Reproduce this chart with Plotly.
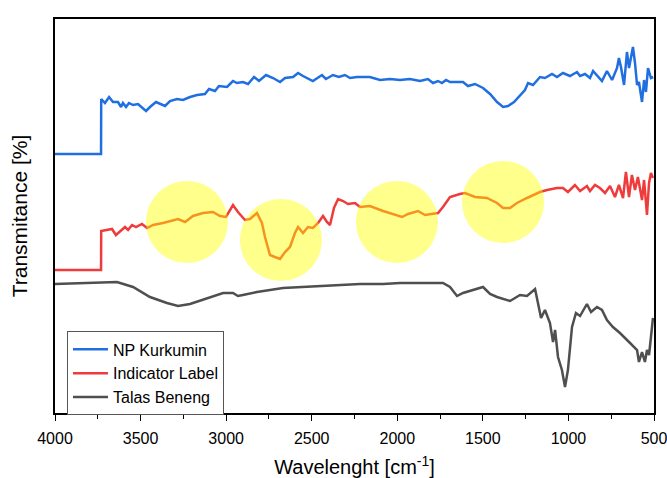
import plotly.graph_objects as go

# NP Kurkumin (blue)
kur_x = [4000, 3731, 3730, 3708, 3684, 3661, 3632, 3614, 3603, 3585, 3568, 3544, 3515, 3492, 3468, 3445,
         3410, 3357, 3328, 3287, 3252, 3211, 3170, 3124, 3100, 3065, 3042, 2995, 2960, 2937, 2902, 2872,
         2837, 2808, 2767, 2726, 2685, 2656, 2609, 2580, 2551, 2493, 2440, 2417, 2376, 2341, 2306, 2276,
         2235, 2160, 2101, 2043, 1984, 1926, 1867, 1821, 1791, 1762, 1739, 1715, 1692, 1616, 1587, 1546,
         1499, 1458, 1417, 1382, 1353, 1318, 1283, 1254, 1236, 1207, 1166, 1137, 1096, 1067, 1032, 991,
         950, 932, 903, 874, 856, 827, 804, 775, 745, 716, 705, 693, 675, 658, 646, 623, 611, 599, 588,
         570, 558, 547, 535, 518, 505]
kur_y = [259, 259, 314, 310, 316, 311, 311, 306, 310, 306, 310, 308, 309, 306, 302, 306,
         311, 307, 312, 314, 313, 316, 318, 319, 324, 322, 327, 326, 332, 330, 331, 329,
         336, 332, 338, 335, 331, 335, 336, 340, 337, 332, 338, 334, 338, 336, 338, 335,
         336, 336, 333, 334, 333, 334, 332, 334, 330, 332, 330, 333, 331, 331, 327, 329,
         325, 319, 311, 306, 307, 311, 317, 323, 330, 328, 336, 335, 339, 336, 340, 337,
         341, 337, 339, 335, 342, 336, 332, 342, 333, 345, 355, 346, 328, 361, 345, 366, 350, 328, 331,
         311, 333, 321, 345, 335, 336]

# Indicator Label (red)
ind_x = [4000, 3731, 3730, 3667, 3644, 3620, 3591, 3573, 3550, 3527, 3492, 3462, 3427, 3369, 3316, 3281,
         3240, 3194, 3135, 3077, 3036, 3001, 2960, 2931, 2890, 2861, 2820, 2791, 2773, 2744, 2715, 2685,
         2656, 2627, 2598, 2580, 2551, 2522, 2493, 2463, 2434, 2411, 2393, 2370, 2346, 2317, 2288, 2247,
         2218, 2160, 2083, 2002, 1972, 1937, 1879, 1838, 1762, 1733, 1692, 1634, 1604, 1546, 1476, 1417,
         1382, 1341, 1301, 1242, 1166, 1125, 1067, 1032, 1003, 962, 932, 892, 874, 845, 816, 786, 757,
         728, 705, 681, 664, 646, 629, 611, 594, 570, 558, 541, 529, 518, 506]
ind_y = [143, 143, 182, 184, 178, 182, 186, 183, 188, 186, 189, 185, 188, 190, 192, 194,
         191, 197, 200, 201, 197, 196, 208, 201, 193, 194, 200, 190, 176, 158, 156, 154,
         161, 166, 180, 186, 180, 186, 185, 190, 197, 191, 188, 205, 214, 212, 209, 210,
         206, 207, 202, 198, 196, 199, 202, 198, 200, 206, 216, 219, 220, 216, 215, 210,
         205, 205, 210, 215, 221, 223, 225, 225, 221, 228, 222, 227, 222, 228, 225, 220, 227,
         216, 228, 215, 241, 216, 238, 223, 236, 213, 233, 198, 230, 240, 235]

# Talas Beneng (dark grey)
tal_x = [4000, 3638, 3544, 3445, 3346, 3281, 3211, 3112, 3018, 2960, 2931, 2902, 2820, 2668, 2469, 2218,
         2083, 1984, 1733, 1692, 1651, 1616, 1499, 1458, 1417, 1341, 1283, 1242, 1195, 1178, 1160, 1137,
         1108, 1090, 1078, 1061, 1038, 1020, 1003, 979, 956, 932, 892, 868, 833, 804, 775, 740, 699, 640,
         599, 588, 570, 553, 541, 529, 512, 506]
tal_y = [129, 131, 126, 116, 110, 107, 109, 115, 120, 120, 117, 118, 121, 125, 127, 129,
         129, 130, 130, 126, 117, 120, 126, 119, 116, 112, 118, 117, 124, 111, 95, 103,
         90, 71, 83, 56, 43, 26, 43, 86, 100, 97, 109, 101, 106, 103, 93, 86, 80, 70,
         63, 51, 61, 51, 63, 58, 90, 95]

# Highlighted regions (centre wavenumber, centre transmittance)
hl_x = [3229, 2680, 2002, 1382]
hl_y = [191, 173, 191, 211]
hl_rx = 240   # cm-1
hl_ry = 41    # transmittance units

fig = go.Figure()
fig.add_trace(go.Scatter(x=kur_x, y=kur_y, mode="lines", name="NP Kurkumin",
                         line=dict(color="#1f6fe0", width=2.5)))
fig.add_trace(go.Scatter(x=ind_x, y=ind_y, mode="lines", name="Indicator Label",
                         line=dict(color="#ef3b3b", width=2.5)))
fig.add_trace(go.Scatter(x=tal_x, y=tal_y, mode="lines", name="Talas Beneng",
                         line=dict(color="#4f4f4f", width=2.5)))

for cx, cy in zip(hl_x, hl_y):
    fig.add_shape(type="circle", xref="x", yref="y",
                  x0=cx - hl_rx, x1=cx + hl_rx, y0=cy - hl_ry, y1=cy + hl_ry,
                  fillcolor="rgba(255,255,0,0.45)", line=dict(width=0), layer="above")

fig.update_layout(
    width=667, height=478,
    margin=dict(l=55, r=13, t=19, b=65, autoexpand=False),
    paper_bgcolor="white", plot_bgcolor="white",
    font=dict(family="Liberation Sans, Arial, sans-serif", color="black", size=16),
    showlegend=True,
    legend=dict(x=0.02, y=0.207, xanchor="left", yanchor="top",
                bordercolor="#555555", borderwidth=1, bgcolor="white",
                font=dict(size=16), tracegroupgap=0, itemwidth=35),
    xaxis=dict(range=[4000, 500], dtick=500, tick0=500, ticks="outside", ticklen=6,
               tickwidth=1, tickcolor="black", automargin=False, ticklabelstandoff=4,
               ticklabeloverflow="allow",
               minor=dict(dtick=250, ticks="outside", ticklen=4, tickcolor="black"),
               showline=True, linecolor="black", linewidth=1.5, mirror=True,
               showgrid=False, zeroline=False,
               tickfont=dict(size=16),
               title=dict(text="Wavelenght [cm<sup>-1</sup>]", font=dict(size=20), standoff=18)),
    yaxis=dict(range=[0, 394], showticklabels=False, ticks="", automargin=False,
               showline=True, linecolor="black", linewidth=1.5, mirror=True,
               showgrid=False, zeroline=False,
               title=dict(text="Transmitance [%]", font=dict(size=21), standoff=20)),
)

fig.write_html("out.html", config={"displayModeBar": False},
               post_script="document.body.style.margin='0';document.body.style.overflow='hidden';")
